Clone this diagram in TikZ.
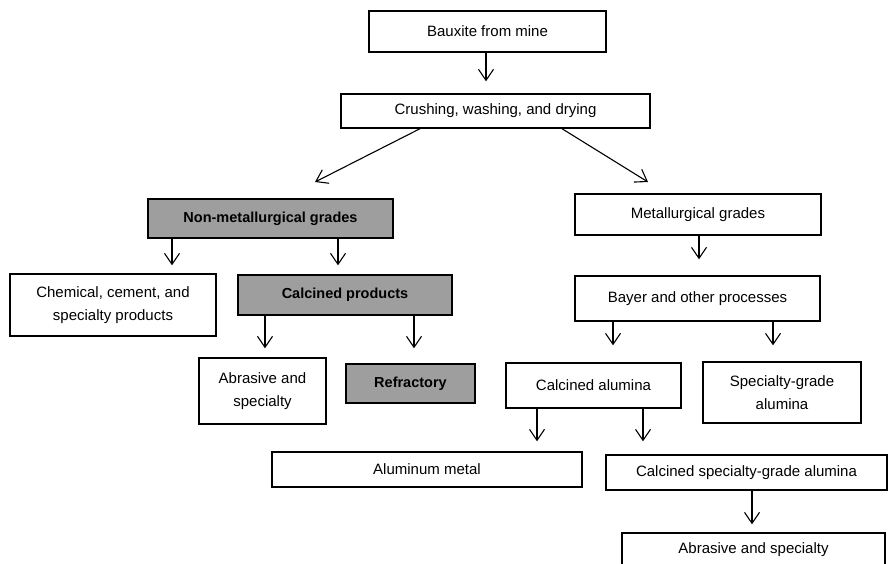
\documentclass[tikz,border=0pt]{standalone}
\usepackage{fontspec}
\setmainfont{Liberation Sans}
\usetikzlibrary{arrows.meta}
\begin{document}
\begin{tikzpicture}[x=1pt,y=-1pt,
  box/.style={draw=black, line width=1.4pt, rectangle, inner sep=0pt, align=center,
    font=\fontsize{15}{23}\selectfont},
  graybox/.style={box, fill=black!38, font=\fontsize{14.5}{23}\selectfont\bfseries},
  arr/.style={-{Straight Barb[length=11pt,width=15pt,line width=1.1pt]}, line width=1.1pt}]
\clip (0,0) rectangle (888,564);
% boxes
\node[box, minimum width=237, minimum height=41] (bx) at (487.5,31.5) {Bauxite from mine};
\node[box, minimum width=309, minimum height=34] (cr) at (495.5,111) {Crushing, washing, and drying};
\node[graybox, minimum width=245, minimum height=39] (nm) at (270.5,218.5) {Non-metallurgical grades};
\node[box, minimum width=246, minimum height=41] (mg) at (698,214.5) {Metallurgical grades};
\node[box, minimum width=206, minimum height=62] (ch) at (113,305) {Chemical, cement, and\\specialty products};
\node[graybox, minimum width=214, minimum height=40] (cp) at (345,295) {Calcined products};
\node[box, minimum width=245, minimum height=45] (by) at (697.5,298.5) {Bayer and other processes};
\node[box, minimum width=127, minimum height=66] (ab1) at (262.5,391) {Abrasive and\\specialty};
\node[graybox, minimum width=129, minimum height=39] (rf) at (410.5,383.5) {Refractory};
\node[box, minimum width=175, minimum height=45] (ca) at (593.5,385.5) {Calcined alumina};
\node[box, minimum width=158, minimum height=61] (sg) at (782,392.5) {Specialty-grade\\alumina};
\node[box, minimum width=310, minimum height=35] (al) at (427,469.5) {Aluminum metal};
\node[box, minimum width=281, minimum height=35] (cs) at (746.5,472.5) {Calcined specialty-grade alumina};
\node[box, minimum width=263, minimum height=34] (ab2) at (753.5,550) {Abrasive and specialty};
% free ends of the diagonal arrows
\coordinate (tl) at (315,182);
\coordinate (tr) at (648,182);
% connectors
\draw[arr, shorten >=12pt] (bx.south -| 486,0) -- (cr.north -| 486,0);
\draw[arr] (cr.south -| 420,0) -- (tl);
\draw[arr] (cr.south -| 562,0) -- (tr);
\draw[arr, shorten >=8pt] (nm.south -| 172,0) -- (ch.north -| 172,0);
\draw[arr, shorten >=9pt] (nm.south -| 338,0) -- (cp.north -| 338,0);
\draw[arr, shorten >=16pt] (mg.south -| 699,0) -- (by.north -| 699,0);
\draw[arr, shorten >=9pt] (cp.south -| 265,0) -- (ab1.north -| 265,0);
\draw[arr, shorten >=15pt] (cp.south -| 414,0) -- (rf.north -| 414,0);
\draw[arr, shorten >=17pt] (by.south -| 613,0) -- (ca.north -| 613,0);
\draw[arr, shorten >=16pt] (by.south -| 773,0) -- (sg.north -| 773,0);
\draw[arr, shorten >=10pt] (ca.south -| 537,0) -- (al.north -| 537,0);
\draw[arr, shorten >=13pt] (ca.south -| 643,0) -- (cs.north -| 643,0);
\draw[arr, shorten >=8pt] (cs.south -| 752,0) -- (ab2.north -| 752,0);
\end{tikzpicture}
\end{document}
